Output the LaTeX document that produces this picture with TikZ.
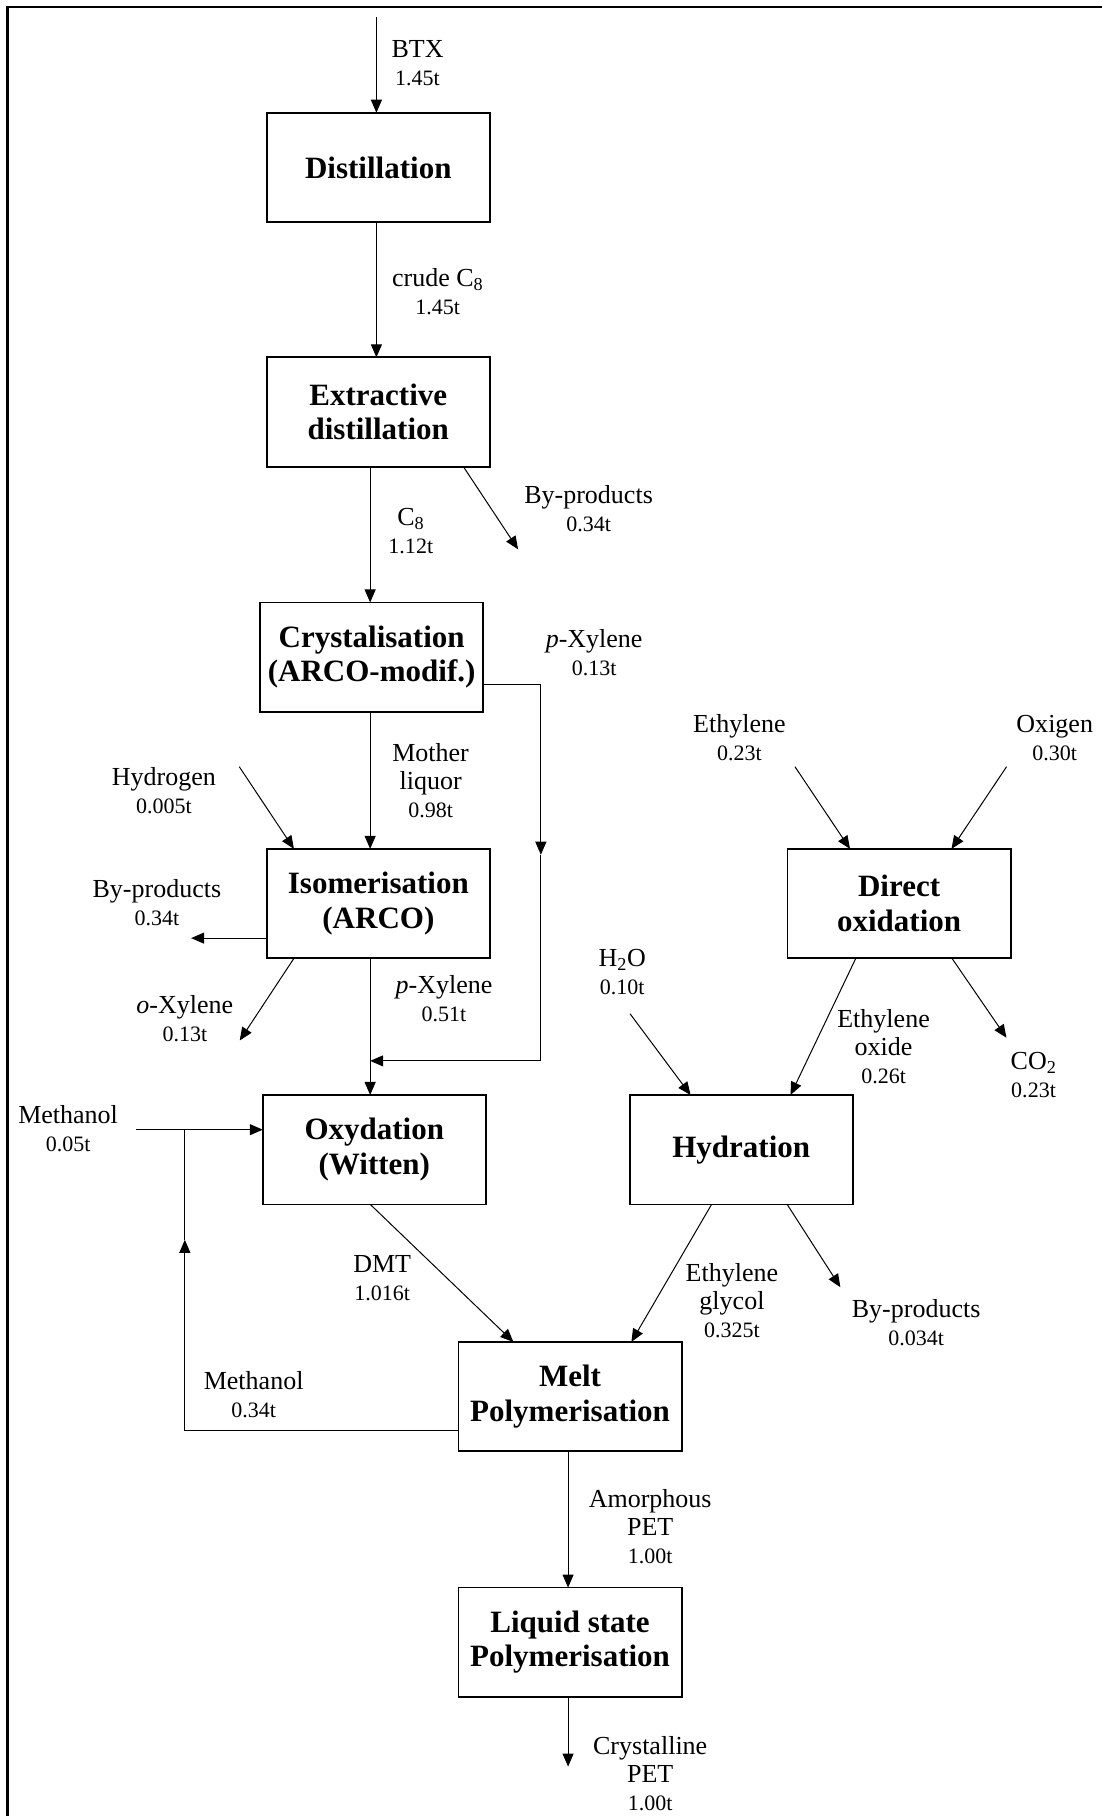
\documentclass[tikz,border=0pt]{standalone}
\usepackage{fontspec}
\setmainfont{Liberation Serif}
\usetikzlibrary{arrows.meta,calc}
\newcommand{\nm}[1]{{\fontsize{22}{28}\selectfont #1}}
\begin{document}
\begin{tikzpicture}[x=1.1577pt,y=-1.1577pt,
  box/.style={draw, line width=1.8pt, minimum width=223pt, minimum height=109.4pt, inner sep=0pt, outer sep=0pt, align=center, font=\fontsize{31}{34.5}\selectfont\bfseries},
  lbl/.style={align=center, inner sep=0pt, font=\fontsize{26}{28}\selectfont},
  arr/.style={line width=1pt, -{Triangle[length=13pt,width=11pt]}},
  ln/.style={line width=1pt}]
\useasboundingbox (0,0) rectangle (951,1568);
\draw[line width=2.5pt, line join=miter] (6.3,1575) -- (6.3,6) -- (960,6);

% boxes
\node[box] (dist)  at (326.6,144.6) {Distillation};
\node[box] (extr)  at (326.6,355.8) {Extractive\\distillation};
\node[box] (cryst) at (320.9,567.4) {Crystalisation\\(ARCO-modif.)};
\node[box] (iso)   at (326.7,780.2) {Isomerisation\\(ARCO)};
\node[box] (oxy)   at (323.2,992.7) {Oxydation\\(Witten)};
\node[box] (dox)   at (776.3,780.2) {Direct\\oxidation};
\node[box] (hyd)   at (640,992.7) {Hydration};
\node[box] (melt)  at (492.2,1205.9) {Melt\\Polymerisation};
\node[box] (liq)   at (492.2,1418) {Liquid state\\Polymerisation};

% labels
\node[lbl] (lbtx)   at (360.5,54.5) {BTX\\\nm{1.45t}};
\node[lbl] (lcrude) at (377.9,252) {crude C\textsubscript{8}\\\nm{1.45t}};
\node[lbl] (lc8)    at (354.7,458.7) {C\textsubscript{8}\\\nm{1.12t}};
\node[lbl] (lbp1)   at (508.2,438.8) {By-products\\\nm{0.34t}};
\node[lbl] (lpx1)   at (513,563.7) {\textit{p}-Xylene\\\nm{0.13t}};
\node[lbl] (lml)    at (371.8,673.6) {Mother\\liquor\\\nm{0.98t}};
\node[lbl] (lh2)    at (141.5,682.8) {Hydrogen\\\nm{0.005t}};
\node[lbl] (lbp2)   at (135.5,779.5) {By-products\\\nm{0.34t}};
\node[lbl] (lox)    at (159.6,879.8) {\textit{o}-Xylene\\\nm{0.13t}};
\node[lbl] (lpx2)   at (383.4,862) {\textit{p}-Xylene\\\nm{0.51t}};
\node[lbl] (lme1)   at (58.8,974.4) {Methanol\\\nm{0.05t}};
\node[lbl] (leth)   at (638.4,637.3) {Ethylene\\\nm{0.23t}};
\node[lbl] (loxi)   at (910.7,637.3) {Oxigen\\\nm{0.30t}};
\node[lbl] (lh2o)   at (537.3,839.6) {H\textsubscript{2}O\\\nm{0.10t}};
\node[lbl] (leo)    at (762.9,904) {Ethylene\\oxide\\\nm{0.26t}};
\node[lbl] (lco2)   at (892.4,928.2) {CO\textsubscript{2}\\\nm{0.23t}};
\node[lbl] (ldmt)   at (330,1104) {DMT\\\nm{1.016t}};
\node[lbl] (leg)    at (632,1123) {Ethylene\\glycol\\\nm{0.325t}};
\node[lbl] (lbp3)   at (791,1141.6) {By-products\\\nm{0.034t}};
\node[lbl] (lme2)   at (219,1204.5) {Methanol\\\nm{0.34t}};
\node[lbl] (lam)    at (561.4,1318.2) {Amorphous\\PET\\\nm{1.00t}};
\node[lbl] (lcr)    at (561.4,1531) {Crystalline\\PET\\\nm{1.00t}};

% coordinates
\coordinate (colA) at (325,0);
\coordinate (colB) at (319.6,0);
\coordinate (colC) at (490.5,0);
\coordinate (btxin) at (325,15);
\coordinate (bp1) at (447.3,474.3);
\coordinate (byp1) at (467,591);
\coordinate (bypmid) at (467,738);
\coordinate (byp2) at (467,916);
\coordinate (h2) at (206.6,662);
\coordinate (bpl) at (165,810);
\coordinate (oxl) at (207,898.4);
\coordinate (meth) at (117.3,975.4);
\coordinate (rec1) at (159.6,1235);
\coordinate (recmid) at (159.6,1070.5);
\coordinate (bp3) at (725.6,1111.4);
\coordinate (eth) at (686.4,662);
\coordinate (oxi) at (869.1,662);
\coordinate (co2) at (869,896);
\coordinate (h2o) at (544,875.3);
\coordinate (out) at (490.5,1525.3);

% connectors
\draw[arr] (btxin) -- (btxin |- dist.north);
\draw[arr] (dist.south -| colA) -- (extr.north -| colA);
\draw[arr] (extr.south -| colB) -- (cryst.north -| colB);
\draw[arr] ($(extr.south west)!0.882!(extr.south east)$) -- (bp1);
\draw[arr] (cryst.south -| colB) -- (iso.north -| colB);
\draw[arr] (byp1 -| cryst.east) -- (byp1) -- (bypmid);
\draw[arr] (bypmid) -- (byp2) -- (byp2 -| colB);
\draw[arr] (h2) -- ($(iso.north west)!0.1215!(iso.north east)$);
\draw[arr] (bpl -| iso.west) -- (bpl);
\draw[arr] ($(iso.south west)!0.1215!(iso.south east)$) -- (oxl);
\draw[arr] (iso.south -| colB) -- (oxy.north -| colB);
\draw[arr] (meth) -- (meth -| oxy.west);
\draw[arr] (rec1 -| melt.west) -- (rec1) -- (recmid);
\draw[ln] (recmid) -- (recmid |- meth);
\draw[arr] ($(oxy.south west)!0.482!(oxy.south east)$) -- ($(melt.north west)!0.246!(melt.north east)$);
\draw[arr] ($(hyd.south west)!0.367!(hyd.south east)$) -- ($(melt.north west)!0.775!(melt.north east)$);
\draw[arr] ($(hyd.south west)!0.706!(hyd.south east)$) -- (bp3);
\draw[arr] (eth) -- ($(dox.north west)!0.280!(dox.north east)$);
\draw[arr] (oxi) -- ($(dox.north west)!0.735!(dox.north east)$);
\draw[arr] ($(dox.south west)!0.306!(dox.south east)$) -- ($(hyd.north west)!0.721!(hyd.north east)$);
\draw[arr] ($(dox.south west)!0.737!(dox.south east)$) -- (co2);
\draw[arr] (h2o) -- ($(hyd.north west)!0.273!(hyd.north east)$);
\draw[arr] (melt.south -| colC) -- (liq.north -| colC);
\draw[arr] (liq.south -| out) -- (out);
\end{tikzpicture}
\end{document}
